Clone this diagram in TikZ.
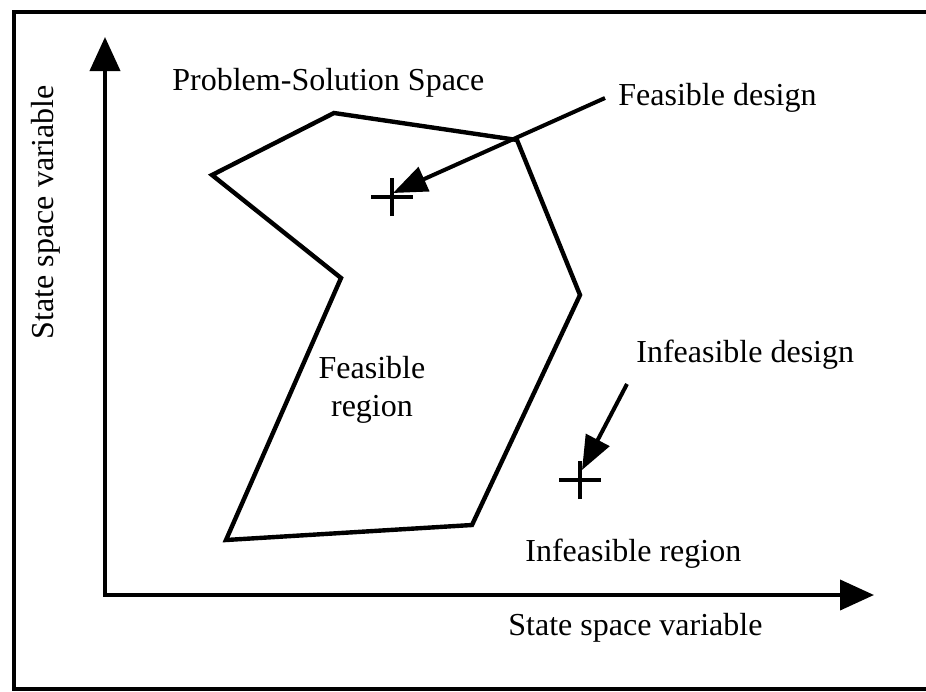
\documentclass[tikz,border=0pt]{standalone}
\usepackage{fontspec}
\setmainfont{Liberation Serif}
\usetikzlibrary{arrows.meta, positioning}

\tikzset{
  axis/.style={line width=2pt, line join=miter,
    {Triangle[length=17pt, width=15pt]}-{Triangle[length=17pt, width=15pt]}},
  pointer/.style={line width=2pt, -{Triangle[length=17pt, width=13pt]}},
  region/.style={line width=2.2pt, line join=miter},
  txt/.style={font=\fontsize{16}{19}\selectfont, inner sep=0pt, align=center},
}
\newcommand{\plusat}[1]{%
  \draw[line width=1.8pt] ([xshift=-10.5pt]#1) -- ([xshift=10.5pt]#1)
    ([yshift=-9.5pt]#1) -- ([yshift=9.5pt]#1);}

\begin{document}
\begin{tikzpicture}[x=0.5pt, y=-0.5pt]
        \useasboundingbox (0,0) rectangle (926,691);
        \draw[line width=2pt] (926,12) -- (14,12) -- (14,689) -- (926,689);

        % axes
        \coordinate (origin) at (105,595);
        \coordinate (ytip)   at (105,37);
        \coordinate (xtip)   at (874,595);
        \draw[axis] (ytip) -- (origin) -- (xtip);
        \node[txt, rotate=90] (ylab) at (46,212) {State space variable};
        \node[txt, anchor=west] (xlab) at (508,628) {State space variable};

        % feasible region
        \draw[region] (334,113) -- (517,140) -- (580,295) -- (472,525)
          -- (226,540) -- (341,278) -- (212,175) -- cycle;

        \node[txt, anchor=west] (space) at (172,83) {Problem-Solution Space};
        \node[txt] (freg) at (372,390) {Feasible\\region};
        \node[txt, anchor=west] (ireg) at (525,554) {Infeasible region};

        % designs
        \coordinate (fd) at (392,197);
        \coordinate (id) at (580,480);
        \plusat{fd}
        \plusat{id}
        \node[txt, anchor=west] (fdlab) at (618,98) {Feasible design};
        \node[txt, anchor=west] (idlab) at (636,355) {Infeasible design};
        \coordinate (fdstart) at (605,98);
        \coordinate (idstart) at (627,384);

        \path[pointer]
        (fdstart) edge ([shift={(1,-4)}]fd)
        (idstart) edge ([shift={(2,-10)}]id);
    \end{tikzpicture}
\end{document}
